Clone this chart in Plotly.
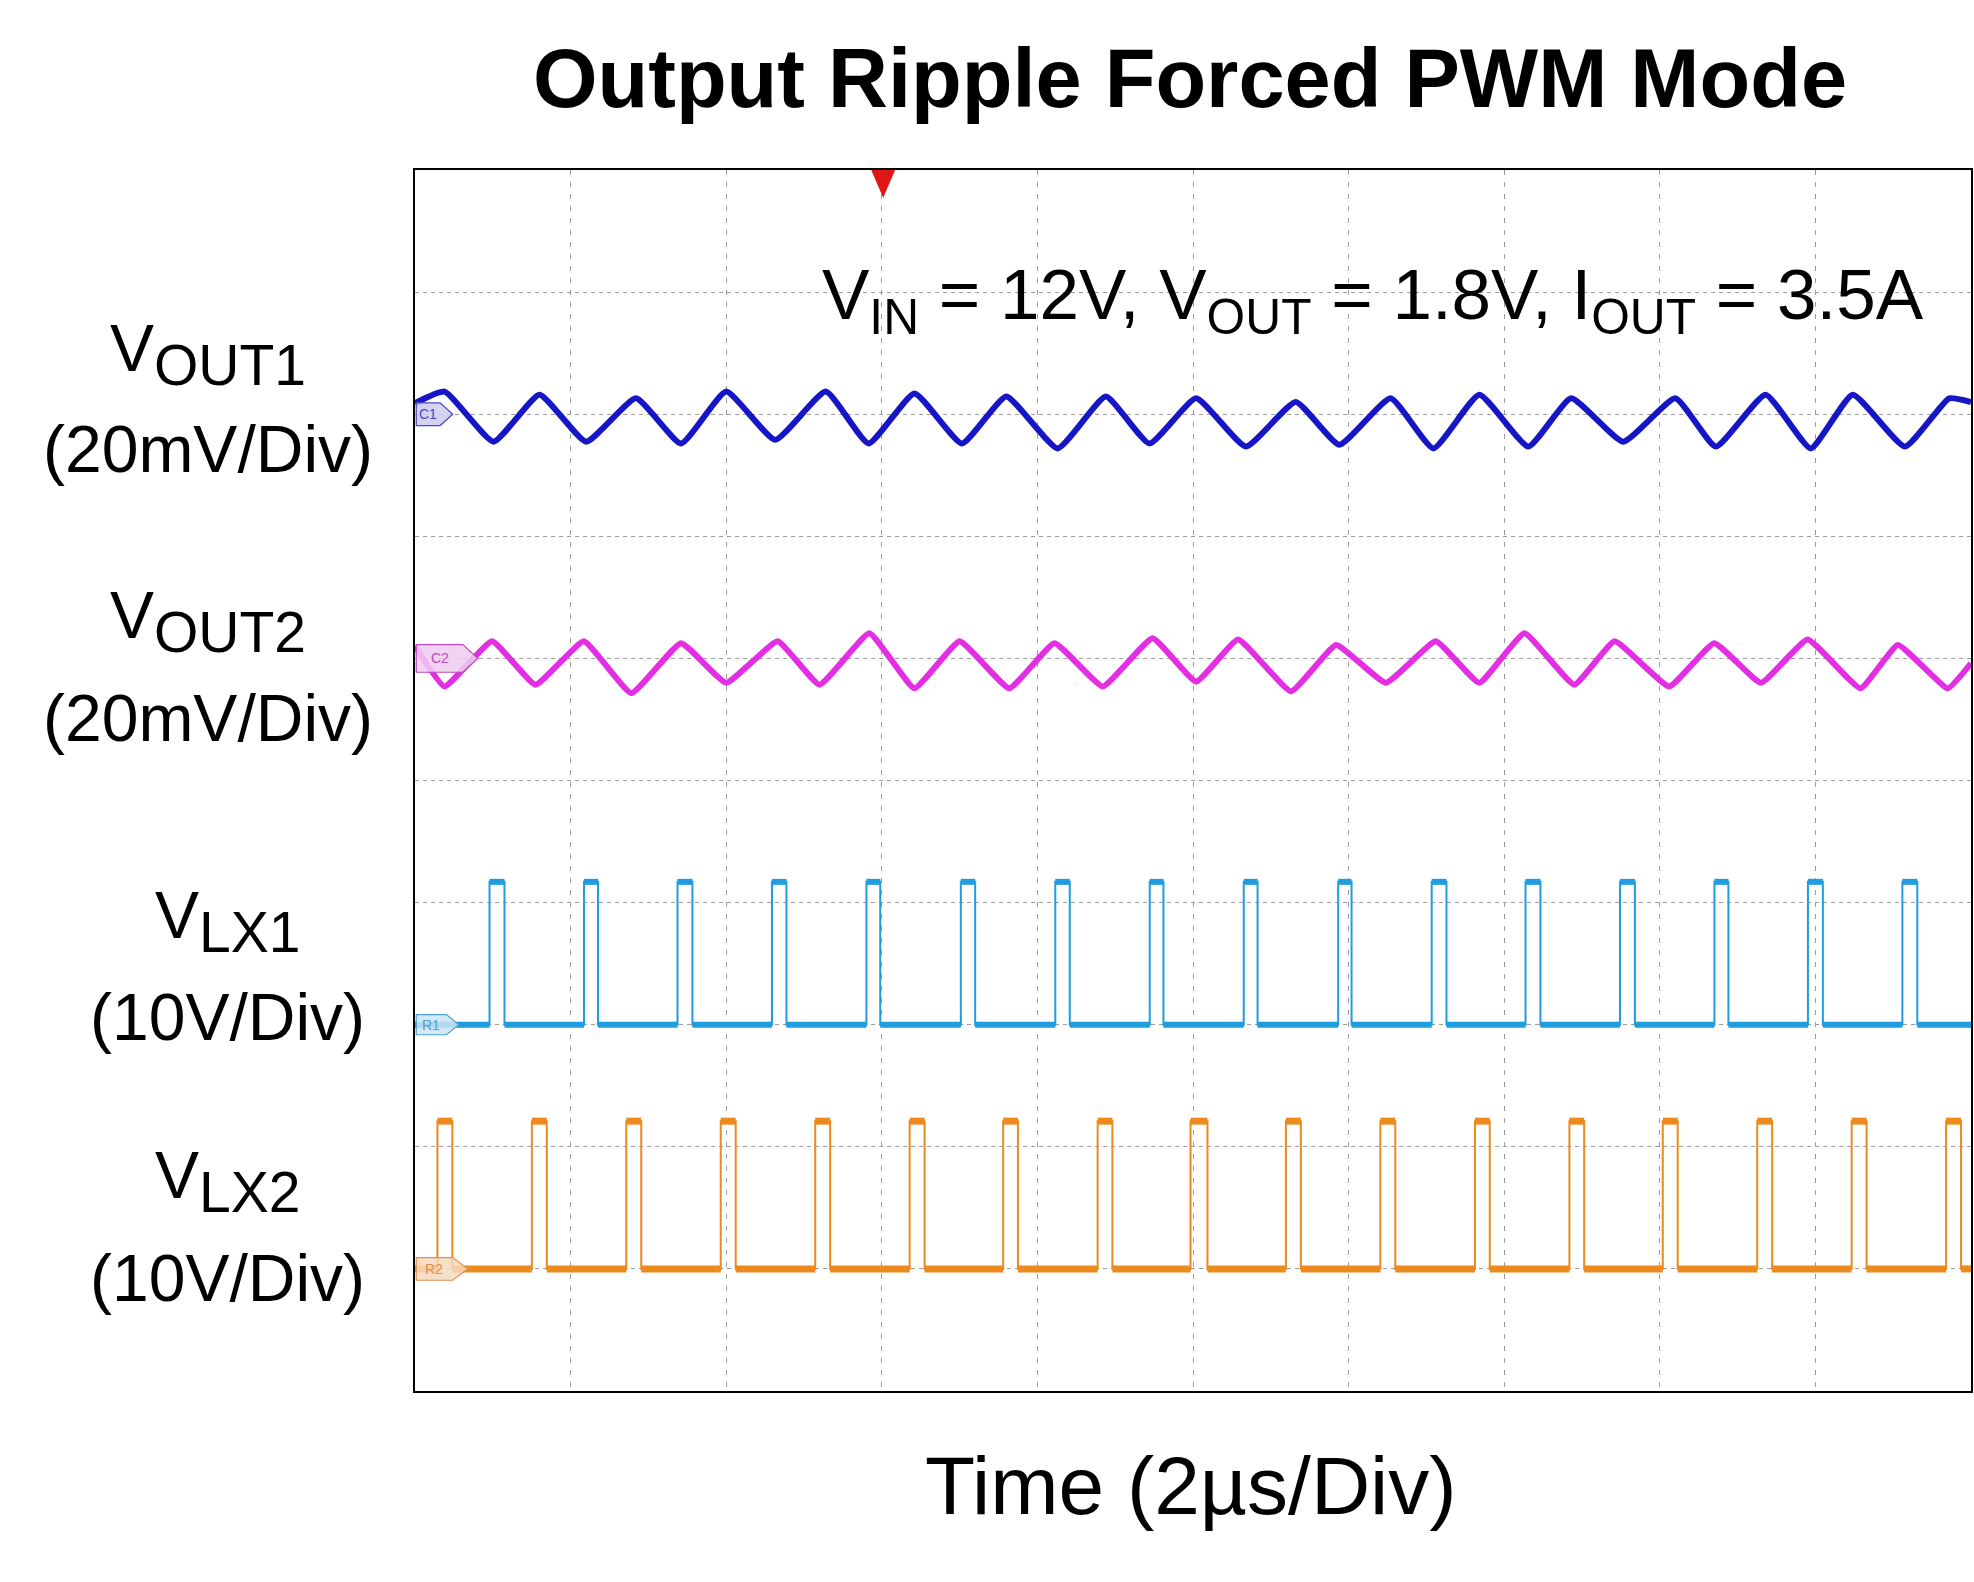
import plotly.graph_objects as go

# ---------------- data read from the scope capture ----------------
# time axis: 2 us/div, 10 divisions
time_range_us = [0, 20]

# V_OUT1 (AC, 20 mV/div) vertices: time in us, deviation in mV
vout1_t_us = [0.00, 0.38, 1.01, 1.60, 2.20, 2.84, 3.42, 4.00, 4.63, 5.28, 5.83, 6.42, 7.03,
              7.60, 8.26, 8.88, 9.44, 10.04, 10.68, 11.32, 11.88, 12.54, 13.09, 13.68, 14.31,
              14.86, 15.53, 16.20, 16.72, 17.36, 17.94, 18.48, 19.15, 19.72, 20.00]
vout1_mv = [1.8, 3.7, -4.5, 3.2, -4.5, 2.6, -4.8, 3.7, -4.2, 3.7, -4.8, 3.4, -4.8,
            2.9, -5.6, 2.9, -4.8, 2.6, -5.3, 2.0, -5.0, 2.6, -5.6, 3.2, -5.3,
            2.6, -4.5, 2.6, -5.3, 3.2, -5.6, 3.2, -5.3, 2.6, 2.0]

# V_OUT2 (AC, 20 mV/div)
vout2_t_us = [0.00, 0.38, 0.99, 1.55, 2.17, 2.78, 3.42, 4.00, 4.66, 5.20, 5.84, 6.42, 7.00,
              7.64, 8.22, 8.84, 9.48, 10.04, 10.58, 11.26, 11.84, 12.48, 13.12, 13.68, 14.26,
              14.90, 15.42, 16.12, 16.70, 17.30, 17.90, 18.58, 19.06, 19.70, 20.00]
vout2_mv = [2.0, -4.6, 2.8, -4.3, 2.8, -5.7, 2.5, -4.0, 2.8, -4.3, 4.1, -4.9, 2.8,
            -4.9, 2.5, -4.6, 3.3, -3.8, 3.1, -5.4, 2.2, -4.0, 2.8, -4.0, 4.1,
            -4.3, 2.8, -4.6, 2.5, -4.0, 3.1, -4.9, 2.2, -4.9, -0.8]

# V_LX1 (10 V/div): switching edges in us, high level in V
lx1_rise_us = [0.958, 2.172, 3.374, 4.588, 5.802, 7.016, 8.230, 9.444, 10.652, 11.866,
               13.068, 14.274, 15.488, 16.702, 17.904, 19.118]
lx1_fall_us = [1.150, 2.352, 3.566, 4.774, 5.980, 7.200, 8.416, 9.620, 10.830, 12.038,
               13.258, 14.466, 15.680, 16.882, 18.096, 19.310]
lx1_high_v = 11.7

# V_LX2 (10 V/div)
lx2_rise_us = [0.288, 1.502, 2.716, 3.930, 5.144, 6.358, 7.560, 8.774, 9.968, 11.194,
               12.408, 13.624, 14.838, 16.038, 17.252, 18.466, 19.680]
lx2_fall_us = [0.480, 1.694, 2.908, 4.122, 5.336, 6.550, 7.750, 8.964, 10.186, 11.386,
               12.600, 13.814, 15.028, 16.230, 17.444, 18.658, 19.872]
lx2_high_v = 12.1

title_text = "Output Ripple Forced PWM Mode"
cond_text = ("V<sub>IN</sub> = 12V, V<sub>OUT</sub> = 1.8V, "
             "I<sub>OUT</sub> = 3.5A")
x_label = "Time (2µs/Div)"
ch_names = ["OUT1", "OUT2", "LX1", "LX2"]
ch_scales = ["(20mV/Div)", "(20mV/Div)", "(10V/Div)", "(10V/Div)"]

# ---------------- helpers ----------------
def pulse_train(rises, falls, high, t_end):
    xs, ys = [0.0], [0.0]
    for r, f in zip(rises, falls):
        xs += [r, r, f, f]
        ys += [0.0, high, high, 0.0]
    xs.append(t_end)
    ys.append(0.0)
    return xs, ys


def flat_parts(rises, falls, high, t_end):
    xs, ys = [], []
    prev = 0.0
    for r, f in zip(rises, falls):
        xs += [prev, r, None, r, f, None]
        ys += [0.0, 0.0, None, high, high, None]
        prev = f
    if prev < t_end:
        xs += [prev, t_end]
        ys += [0.0, 0.0]
    return xs, ys


C_V1 = "#1616c6"
C_V2 = "#e42ee4"
C_L1 = "#1f9ddf"
C_L2 = "#ec8a1e"
FONT = "Liberation Sans, Arial, sans-serif"

fig = go.Figure()

fig.add_trace(go.Scatter(x=vout1_t_us, y=vout1_mv, mode="lines", yaxis="y",
                         line=dict(color=C_V1, width=6, shape="spline", smoothing=0.45),
                         hoverinfo="skip", showlegend=False))
fig.add_trace(go.Scatter(x=vout2_t_us, y=vout2_mv, mode="lines", yaxis="y2",
                         line=dict(color=C_V2, width=6, shape="spline", smoothing=0.35),
                         hoverinfo="skip", showlegend=False))

x1, y1 = pulse_train(lx1_rise_us, lx1_fall_us, lx1_high_v, time_range_us[1])
fx1, fy1 = flat_parts(lx1_rise_us, lx1_fall_us, lx1_high_v, time_range_us[1])
fig.add_trace(go.Scatter(x=x1, y=y1, mode="lines", yaxis="y3",
                         line=dict(color=C_L1, width=2), hoverinfo="skip", showlegend=False))
fig.add_trace(go.Scatter(x=fx1, y=fy1, mode="lines", yaxis="y3", connectgaps=False,
                         line=dict(color=C_L1, width=6), hoverinfo="skip", showlegend=False))

x2, y2 = pulse_train(lx2_rise_us, lx2_fall_us, lx2_high_v, time_range_us[1])
fx2, fy2 = flat_parts(lx2_rise_us, lx2_fall_us, lx2_high_v, time_range_us[1])
fig.add_trace(go.Scatter(x=x2, y=y2, mode="lines", yaxis="y4",
                         line=dict(color=C_L2, width=2), hoverinfo="skip", showlegend=False))
fig.add_trace(go.Scatter(x=fx2, y=fy2, mode="lines", yaxis="y4", connectgaps=False,
                         line=dict(color=C_L2, width=7), hoverinfo="skip", showlegend=False))

GRID = "#9c9c9c"
fig.update_layout(
    width=1974, height=1582,
    margin=dict(l=415, r=1, t=170, b=191, pad=0),
    paper_bgcolor="white", plot_bgcolor="white",
    font=dict(family=FONT, color="black"),
    xaxis=dict(range=time_range_us, dtick=2, tick0=0, showgrid=True, gridcolor=GRID,
               gridwidth=1.3, griddash="5px,7px", showticklabels=False, ticks="",
               zeroline=False, showline=True, linecolor="black", linewidth=2, mirror=True),
    yaxis=dict(range=[-160, 40], dtick=20, tick0=0, showgrid=True, gridcolor=GRID,
               gridwidth=1.3, griddash="4px,4px", showticklabels=False, ticks="",
               zeroline=False, showline=True, linecolor="black", linewidth=2, mirror=True),
    yaxis2=dict(range=[-120, 80], overlaying="y", visible=False),
    yaxis3=dict(range=[-30, 70], overlaying="y", visible=False),
    yaxis4=dict(range=[-10, 90], overlaying="y", visible=False),
)

# convert reference thumbnail pixels (1568-wide view) to axis coordinates
def tx(px):
    return (px - 330) * 2.0 / 123.8


def ty(py):
    return (1105 - py) / 970.0


shapes = []
# white box behind the condition text
shapes.append(dict(type="rect", xref="paper", yref="paper", x0=0.240, x1=0.967,
                   y0=0.863, y1=0.937, fillcolor="white", line=dict(width=0),
                   layer="between"))
# trigger marker
shapes.append(dict(type="path", xref="x", yref="paper",
                   path=f"M {tx(693)},{ty(135)} L {tx(712)},{ty(135)} L {tx(702.5)},{ty(157)} Z",
                   fillcolor="#e01515", line=dict(width=0), layer="above"))

flags = [
    ("C1", 329, 350, 360, 9, "rgba(205,205,240,0.85)", "#4848c0"),
    ("C2", 523, 368, 380, 11, "rgba(240,205,240,0.85)", "#c048c0"),
    ("R1", 814, 355, 365, 8, "rgba(205,228,245,0.85)", "#4fa0d0"),
    ("R2", 1008, 360, 372, 9, "rgba(246,218,190,0.85)", "#e0904c"),
]
annotations = []
for name, yc, xb, xt, hh, fill, edge in flags:
    p = (f"M {tx(331)},{ty(yc - hh)} L {tx(xb)},{ty(yc - hh)} L {tx(xt)},{ty(yc)} "
         f"L {tx(xb)},{ty(yc + hh)} L {tx(331)},{ty(yc + hh)} Z")
    shapes.append(dict(type="path", xref="x", yref="paper", path=p, fillcolor=fill,
                       line=dict(color=edge, width=1.2), layer="above"))
    annotations.append(dict(xref="x", yref="paper", x=tx((331 + xb) / 2), y=ty(yc),
                            text=name, showarrow=False, xanchor="center", yanchor="middle",
                            font=dict(size=14, color=edge, family=FONT)))

# title
annotations.append(dict(xref="paper", yref="paper", x=0.498, y=1.0753, text=f"<b>{title_text}</b>",
                        showarrow=False, xanchor="center", yanchor="middle",
                        font=dict(size=83, family=FONT, color="black")))
# conditions
annotations.append(dict(xref="paper", yref="paper", x=0.2604, y=0.8935, text=cond_text,
                        showarrow=False, xanchor="left", yanchor="middle",
                        font=dict(size=71, family=FONT, color="black")))
# x label
annotations.append(dict(xref="paper", yref="paper", x=0.499, y=-0.0778, text=x_label,
                        showarrow=False, xanchor="center", yanchor="middle",
                        font=dict(size=82, family=FONT, color="black")))

label_pos = [(-0.1328, 0.8493, 0.7715), (-0.1328, 0.6306, 0.5512),
             (-0.1206, 0.3849, 0.3063), (-0.1206, 0.1720, 0.0925)]
for nm, sc, (lx, ly1, ly2) in zip(ch_names, ch_scales, label_pos):
    annotations.append(dict(xref="paper", yref="paper", x=lx, y=ly1,
                            text=f"V<sub><span style='font-size:57px'>{nm}</span></sub>",
                            showarrow=False, xanchor="center", yanchor="middle",
                            font=dict(size=66, family=FONT, color="black")))
    annotations.append(dict(xref="paper", yref="paper", x=lx, y=ly2, text=sc,
                            showarrow=False, xanchor="center", yanchor="middle",
                            font=dict(size=66, family=FONT, color="black")))

fig.update_layout(shapes=shapes, annotations=annotations)

fig.write_html("out.html", config={"displayModeBar": False},
               post_script="document.body.style.margin='0';")
